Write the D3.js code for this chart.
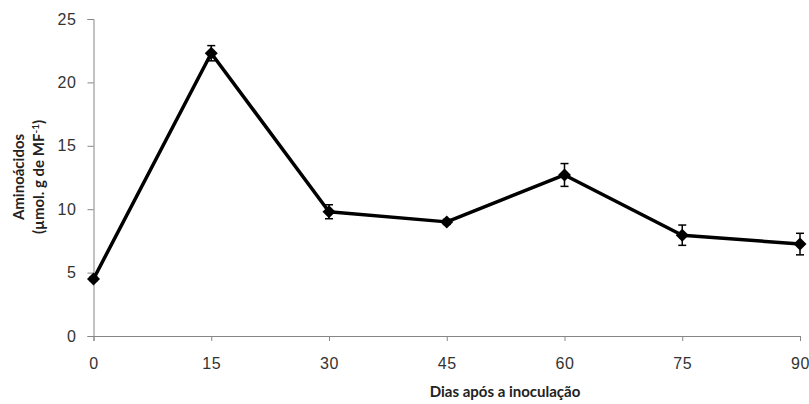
<!DOCTYPE html>
<html>
<head>
<meta charset="utf-8">
<script src="https://cdn.jsdelivr.net/npm/d3@7"></script>
<style>
  html, body { margin: 0; padding: 0; background: #fff; }
  svg { display: block; font-family: Lato, "Open Sans", sans-serif; }
</style>
</head>
<body>
<svg id="chart" width="809" height="404"></svg>
<script>
// Days after inoculation and amino acid content (µmol g⁻¹ FW)
const days = [0, 15, 30, 45, 60, 75, 90];
const aminoacids = [4.5, 22.3, 9.8, 9.0, 12.7, 7.95, 7.25];
const errors = [0.15, 0.6, 0.55, 0.2, 0.9, 0.8, 0.85];
const yTicks = [0, 5, 10, 15, 20, 25];
const xTicks = [0, 15, 30, 45, 60, 75, 90];

const svg = d3.select("#chart");
const plotLeft = 93.5, plotRight = 800, plotTop = 19, plotBottom = 336;

const x = d3.scaleLinear().domain([0, 90]).range([plotLeft, plotRight]);
const y = d3.scaleLinear().domain([0, 25]).range([plotBottom, plotTop]);

const axisColor = "#868686";
const labelColor = "#333";

// Y axis
const yAxis = svg.append("g")
  .attr("transform", `translate(${plotLeft},0)`)
  .call(d3.axisLeft(y).tickValues(yTicks).tickSize(6).tickPadding(11));
yAxis.select(".domain").attr("stroke", axisColor);
yAxis.selectAll(".tick line").attr("stroke", axisColor);
yAxis.selectAll(".tick text").attr("fill", labelColor)
  .style("font-size", "16px").style("letter-spacing", "0.6px");

// X axis
const xAxis = svg.append("g")
  .attr("transform", `translate(0,${plotBottom})`)
  .call(d3.axisBottom(x).tickValues(xTicks).tickSize(5).tickPadding(17));
xAxis.select(".domain").attr("stroke", axisColor);
xAxis.selectAll(".tick line").attr("stroke", axisColor);
xAxis.selectAll(".tick text").attr("fill", labelColor)
  .style("font-size", "16px").style("letter-spacing", "0.6px");

// Axis titles
svg.append("text")
  .attr("x", 505).attr("y", 397)
  .attr("text-anchor", "middle")
  .attr("fill", "#222")
  .style("font-size", "15px").style("font-weight", "bold")
  .text("Dias após a inoculação");

const yt = svg.append("text")
  .attr("transform", "translate(0,177) rotate(-90)")
  .attr("text-anchor", "middle")
  .attr("fill", "#222")
  .style("font-size", "15px").style("font-weight", "bold");
yt.append("tspan").attr("x", 0).attr("y", 24).text("Aminoácidos");
const l2 = yt.append("tspan").attr("x", 0).attr("y", 44).text("(µmol. g de MF");
l2.append("tspan").attr("dy", -5).style("font-size", "10px").text("-1");
l2.append("tspan").attr("dy", 5).text(")");

const data = days.map((d, i) => ({ d, v: aminoacids[i], e: errors[i] }));

// Line
svg.append("path")
  .datum(data)
  .attr("fill", "none")
  .attr("stroke", "#000")
  .attr("stroke-width", 3.5)
  .attr("stroke-linejoin", "round")
  .attr("d", d3.line().x(p => x(p.d)).y(p => y(p.v)));

// Error bars
const eb = svg.append("g").attr("stroke", "#000").attr("stroke-width", 1.5);
data.forEach(p => {
  const cx = x(p.d);
  eb.append("line").attr("x1", cx).attr("x2", cx).attr("y1", y(p.v + p.e)).attr("y2", y(p.v - p.e));
  eb.append("line").attr("x1", cx - 4).attr("x2", cx + 4).attr("y1", y(p.v + p.e)).attr("y2", y(p.v + p.e));
  eb.append("line").attr("x1", cx - 4).attr("x2", cx + 4).attr("y1", y(p.v - p.e)).attr("y2", y(p.v - p.e));
});

// Diamond markers
svg.append("g").selectAll("path")
  .data(data)
  .join("path")
  .attr("transform", p => `translate(${x(p.d)},${y(p.v)})`)
  .attr("d", "M0,-6.5L6.5,0L0,6.5L-6.5,0Z")
  .attr("fill", "#000");
</script>
</body>
</html>
